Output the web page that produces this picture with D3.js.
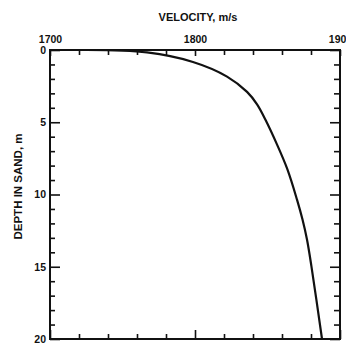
<!DOCTYPE html>
<html>
<head>
<meta charset="utf-8">
<script src="https://cdn.jsdelivr.net/npm/d3@7/dist/d3.min.js"></script>
<style>
  html, body { margin: 0; padding: 0; background: #fff; }
  svg { display: block; }
  text { font-family: "Liberation Sans", Arial, Helvetica, sans-serif; font-weight: bold; fill: #111; }
</style>
</head>
<body>
<div id="chart"></div>
<script>
// Seismic velocity profile in sand: velocity (m/s) against depth (m)
const depth    = [0,      0.17,   0.83,   1.84,   2.90,   3.76,   4.83,   6.55,   8.28,   10.34,  11.72,  13.10,  14.97,  20];
const velocity = [1725.5, 1766.9, 1798.6, 1822.1, 1835.9, 1842.8, 1848.6, 1856.6, 1863.8, 1870.3, 1874.1, 1877.2, 1880.3, 1887.6];

const velocityLabels = [1700, 1800, 1900];
const velocityMinor  = [1720, 1740, 1760, 1780, 1820, 1840, 1860, 1880];
const depthLabels    = [0, 5, 10, 15, 20];
const depthMinor     = [1, 2, 3, 4, 6, 7, 8, 9, 11, 12, 13, 14, 16, 17, 18, 19];

const W = 346, H = 345;
const m = { top: 50, right: 6, bottom: 5, left: 50 };

const svg = d3.select("#chart").append("svg")
  .attr("width", W).attr("height", H);

const x = d3.scaleLinear().domain([1700, 1900]).range([m.left, W - m.right]);
const y = d3.scaleLinear().domain([0, 20]).range([m.top, H - m.bottom - 1]);

const [x0, x1] = x.range();
const [y0, y1] = y.range();

function styleAxis(g) {
  g.select(".domain").remove();
  g.selectAll(".tick line").attr("stroke", "#111").attr("stroke-width", 1.6);
  g.selectAll(".tick text").attr("font-size", 10.5).attr("fill", "#111")
    .attr("font-family", "Liberation Sans, Arial, sans-serif").attr("font-weight", "bold");
}

// top axis: labelled velocity ticks plus minor ticks, pointing into the plot
svg.append("g").attr("transform", `translate(0,${y0})`)
  .call(d3.axisTop(x).tickValues(velocityMinor).tickSize(-5).tickFormat(""))
  .call(styleAxis);
svg.append("g").attr("transform", `translate(0,${y0})`)
  .call(d3.axisTop(x).tickValues(velocityLabels).tickSize(-6).tickPadding(7).tickFormat(d3.format("d")))
  .call(styleAxis);

// bottom axis: ticks only
svg.append("g").attr("transform", `translate(0,${y1})`)
  .call(d3.axisBottom(x).tickValues(velocityMinor).tickSize(-5).tickFormat(""))
  .call(styleAxis);
svg.append("g").attr("transform", `translate(0,${y1})`)
  .call(d3.axisBottom(x).tickValues(velocityLabels).tickSize(-9).tickFormat(""))
  .call(styleAxis);

// left axis: labelled depth ticks
svg.append("g").attr("transform", `translate(${x0},0)`)
  .call(d3.axisLeft(y).tickValues(depthMinor).tickSize(-5).tickFormat(""))
  .call(styleAxis);
svg.append("g").attr("transform", `translate(${x0},0)`)
  .call(d3.axisLeft(y).tickValues(depthLabels).tickSize(-10).tickPadding(4).tickFormat(d3.format("d")))
  .call(styleAxis);

// right axis: ticks only
svg.append("g").attr("transform", `translate(${x1},0)`)
  .call(d3.axisRight(y).tickValues(depthMinor).tickSize(-6).tickFormat(""))
  .call(styleAxis);
svg.append("g").attr("transform", `translate(${x1},0)`)
  .call(d3.axisRight(y).tickValues(depthLabels).tickSize(-10).tickFormat(""))
  .call(styleAxis);

// plot frame
svg.append("rect")
  .attr("x", x0).attr("y", y0)
  .attr("width", x1 - x0).attr("height", y1 - y0)
  .attr("fill", "none").attr("stroke", "#111").attr("stroke-width", 2);

// velocity profile
const pts = depth.map((d, i) => ({ d, v: velocity[i] }));
const line = d3.line()
  .x(p => x(p.v))
  .y(p => y(p.d))
  .curve(d3.curveCatmullRom.alpha(0.5));
svg.append("path")
  .datum(pts)
  .attr("d", line)
  .attr("fill", "none")
  .attr("stroke", "#111")
  .attr("stroke-width", 2.2)
  .attr("stroke-linejoin", "round");

// axis titles
svg.append("text")
  .attr("x", (x0 + x1) / 2 + 3).attr("y", 21)
  .attr("text-anchor", "middle")
  .attr("font-size", 11)
  .text("VELOCITY, m/s");

svg.append("text")
  .attr("transform", `translate(22,${(y0 + y1) / 2 - 8}) rotate(-90)`)
  .attr("text-anchor", "middle")
  .attr("font-size", 11.5)
  .text("DEPTH IN SAND, m");
</script>
</body>
</html>
